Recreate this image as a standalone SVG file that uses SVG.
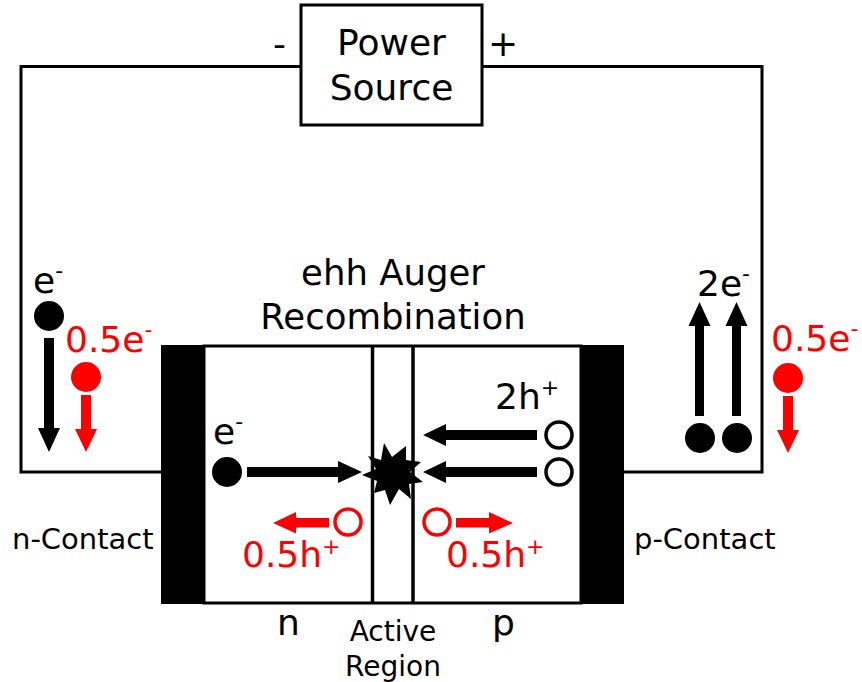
<svg xmlns="http://www.w3.org/2000/svg" width="862" height="682" viewBox="0 0 862 682">
<defs>
<style>
text{font-family:"DejaVu Sans",Verdana,sans-serif;fill:#000}
.l{font-size:36px}
.t{font-size:35.500px}
.m{font-size:28px}
.c{font-size:29px}
.r{fill:#f00}
.sup{font-size:22px}
.plus{font-size:22px}
.wire{fill:none;stroke:#000;stroke-width:3}
.bar{fill:none;stroke:#000;stroke-width:3.500}
.k{fill:#000}.red{fill:#f00}
.ok{fill:#fff;stroke:#000;stroke-width:3.500}
.or{fill:#fff;stroke:#f00;stroke-width:3.500}
</style>
</defs>
<rect width="862" height="682" fill="#fff"/>
<g id="device">
<rect x="204" y="346" width="377" height="257" fill="#fff" stroke="#000" stroke-width="3"/>
<line class="bar" x1="372.500" y1="346" x2="372.500" y2="603"/>
<line class="bar" x1="413" y1="346" x2="413" y2="603"/>
</g>
<g id="connectors">
<path class="wire" d="M301 66.500H21V472H161"/>
<path class="wire" d="M482 66.500H762V472H624"/>
<path class="k" d="M44 338h10v90h6l-11 24l-11-24h6z"/>
<path class="red" d="M81 395h10v34h6l-11 23l-11-23h6z"/>
<path class="k" d="M695 416v-90h-6.500l11-24l11 24h-6.500v90z"/>
<path class="k" d="M732 416v-90h-6.500l11-24l11 24h-6.500v90z"/>
<path class="red" d="M783 396h10v34h6l-11 23l-11-23h6z"/>
<path class="k" d="M247 467h91v-6l24 11l-24 11v-6h-91z"/>
<path class="k" d="M537 430v10h-91v6l-23-11l23-11v6z"/>
<path class="k" d="M537 467v10h-91v6l-23-11l23-11v6z"/>
<path class="red" d="M329 518v9.500h-33v6l-23-10.500l23-11v6z"/>
<path class="red" d="M456 518h33v-6l24 11l-24 10.500v-6h-33z"/>
</g>
<g id="power-source">
<rect x="301" y="5" width="181" height="120" fill="#fff" stroke="#000" stroke-width="3"/>
<text class="l" x="391.500" y="55" text-anchor="middle">Power</text>
<text class="l" x="391.500" y="100" text-anchor="middle">Source</text>
</g>
<text class="l" x="273" y="56">-</text>
<text class="l" x="488" y="56">+</text>
<text class="t" x="393" y="285" text-anchor="middle">ehh Auger</text>
<text class="t" x="393" y="329" text-anchor="middle">Recombination</text>
<g id="n-contact"><rect x="161" y="345" width="43" height="259" class="k"/></g>
<g id="p-contact"><rect x="581" y="345" width="43" height="259" class="k"/></g>
<g id="recombination"><path class="k" d="M384 443L392 457L406 446L406 460L421 462L410 472L423 482L409 484L411 499L399 489L390 505L385 490L374 493L377 481L362 475L376 469L368 456L381 460z"/></g>
<g id="left-electrons">
<text class="l" x="33" y="293">e<tspan class="sup" dy="-15">-</tspan></text>
<circle cx="49" cy="316" r="15" class="k"/>
<text class="l r" x="65" y="352">0.5e<tspan class="sup r" dy="-15">-</tspan></text>
<circle cx="86" cy="377" r="15" class="red"/>
</g>
<g id="right-electrons">
<text class="l" x="697" y="296">2e<tspan class="sup" dy="-15">-</tspan></text>
<circle cx="700" cy="438" r="15" class="k"/>
<circle cx="737" cy="438" r="15" class="k"/>
<text class="l r" x="771" y="351">0.5e<tspan class="sup r" dy="-15">-</tspan></text>
<circle cx="788" cy="378" r="15" class="red"/>
</g>
<g id="carriers">
<text class="l" x="213" y="444">e<tspan class="sup" dy="-15">-</tspan></text>
<circle cx="227" cy="472" r="15" class="k"/>
<text class="l" x="495" y="409">2h<tspan class="plus" dy="-14">+</tspan></text>
<circle cx="559" cy="435" r="13" class="ok"/>
<circle cx="559" cy="472" r="13" class="ok"/>
<circle cx="348" cy="522" r="13" class="or"/>
<circle cx="437" cy="522" r="13" class="or"/>
<text class="l r" x="242" y="567">0.5h<tspan class="plus r" dy="-13">+</tspan></text>
<text class="l r" x="446" y="567">0.5h<tspan class="plus r" dy="-13">+</tspan></text>
</g>
<text class="c" x="12" y="549">n-Contact</text>
<text class="c" x="634" y="549">p-Contact</text>
<text class="l" x="277" y="635">n</text>
<text class="l" x="492" y="635">p</text>
<text class="m" x="393" y="641" text-anchor="middle">Active</text>
<text class="m" x="393" y="676" text-anchor="middle">Region</text>
</svg>
